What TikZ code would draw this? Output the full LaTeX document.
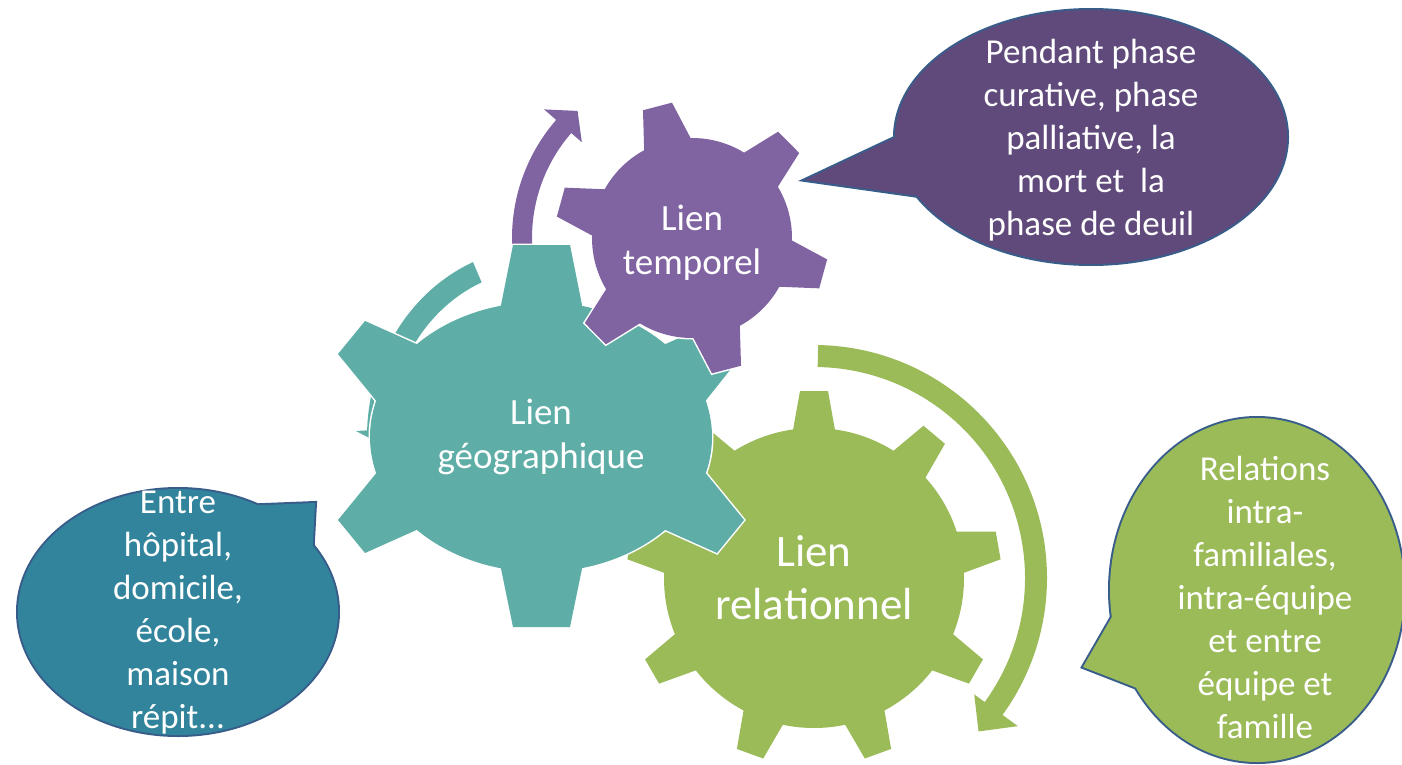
\documentclass[tikz,border=0pt]{standalone}
\usepackage{fontspec}
\setmainfont{Carlito}
\usepackage{tikz}
\usetikzlibrary{positioning}
\definecolor{geoteal}{RGB}{94,174,167}
\definecolor{temppurple}{RGB}{128,100,162}
\definecolor{relgreen}{RGB}{155,187,89}
\definecolor{bubteal}{RGB}{49,132,155}
\definecolor{bubpurple}{RGB}{96,74,123}
\definecolor{bubline}{RGB}{56,93,138}
\tikzstyle{rim} = [draw=white, line width=3pt]
\tikzstyle{bubrim} = [draw=bubline, line width=4pt]
\tikzstyle{gearlabel} = [text=white, align=center, inner sep=0pt, font=\fontsize{37}{44}\selectfont]
\tikzstyle{bublabel} = [text=white, align=center, inner sep=0pt, font=\fontsize{35}{43}\selectfont]
% each gear / bubble is drawn twice: first with its rim, then plain on top
\def\geargeo(#1){
  \fill[#1] (541,437) ellipse (171 and 135);
  \fill[#1] (498,320) -- (513,245) -- (570,245) -- (585,320) -- cycle;
  \fill[#1] (498,554) -- (513,627) -- (570,627) -- (585,554) -- cycle;
  \fill[#1] (387,414) -- (338,354) -- (365,321) -- (432,351) -- cycle;
  \fill[#1] (387,460) -- (338,520) -- (365,553) -- (432,523) -- cycle;
  \fill[#1] (695,414) -- (738,360) -- (717,321) -- (650,351) -- cycle;
  \fill[#1] (695,460) -- (744,520) -- (717,553) -- (650,523) -- cycle;
}
\def\geartemp(#1){
  \fill[#1] (692,238) circle (100);
  \foreach \a in {15.3,75.3,135.3,195.3,255.3,315.3}
    \fill[#1, shift={(692,238)}, rotate=\a] (85,-24) -- (97,-24) -- (136,-15) -- (136,15) -- (97,24) -- (85,24) -- cycle;
}
\def\gearrel(#1){
  \fill[#1] (814,578) circle (150);
  \foreach \a in {30,70,...,350}
    \fill[#1, shift={(814,578)}, rotate=\a] (135,-21) -- (148,-21) -- (187,-14) -- (187,14) -- (148,21) -- (135,21) -- cycle;
}
\def\bubtemp(#1){
  \fill[#1] (1091,137) ellipse (196 and 127);
  \fill[#1] (805,180) -- (920,126) -- (940,199) -- cycle;
}
\def\bubgeo(#1){
  \fill[#1] (178,612) ellipse (160 and 123);
  \fill[#1] (315,503) -- (240,506) -- (311,577) -- cycle;
}
\def\bubrel(#1){
  \fill[#1] (1257,590) ellipse (147 and 172);
  \fill[#1] (1083,667) -- (1124,596) -- (1160,697) -- cycle;
}

\begin{document}
\begin{tikzpicture}[x=1pt,y=1pt,yscale=-1]
      \useasboundingbox (0,0) rectangle (1402,765);
      %%%%%%%%%%%%%%%%%%%%%%%%%%%%%%%%%%%%%%%
      % green gear and its arrow
      \begin{scope}[shift={(814,578)}]
      \fill[relgreen] (271:233) arc[start angle=271, end angle=396, radius=233]
        -- (396:252) -- (403:225) -- (396:198) -- (396:211)
        arc[start angle=396, end angle=271, radius=211] -- cycle;
      \end{scope}
      \gearrel(relgreen,rim)
      \gearrel(relgreen)
      % teal arrow, mostly hidden
      \begin{scope}[shift={(541,437)}]
      \fill[geoteal] (247:174 and 190) arc[start angle=247, end angle=182, x radius=174, y radius=190]
        -- (-185,-6) -- (-145,15) -- (-129,-7) -- (182:152 and 168)
        arc[start angle=182, end angle=247, x radius=152, y radius=168] -- cycle;
      \end{scope}
      % purple arrow, behind the teal gear
      \begin{scope}[shift={(692,238)}]
      \fill[temppurple] (165:180) arc[start angle=165, end angle=221, radius=180]
        -- (221:196) -- (228:171) -- (221:146) -- (221:160)
        arc[start angle=221, end angle=165, radius=160] -- cycle;
      \end{scope}
      \geargeo(geoteal,rim)
      \geargeo(geoteal)
      \geartemp(temppurple,rim)
      \geartemp(temppurple)
      % bubbles
      \bubtemp(bubpurple,bubrim)
      \bubtemp(bubpurple)
      \bubgeo(bubteal,bubrim)
      \bubgeo(bubteal)
      \bubrel(relgreen,bubrim)
      \bubrel(relgreen)
      % texts
      \node (temp) at (692,243) [gearlabel] {Lien\\temporel};
      \node (geo) at (541,437) [gearlabel] {Lien\\géographique};
      \node (rel) at (814,578) [gearlabel, font=\fontsize{45}{53}\selectfont] {Lien\\relationnel};
      \node (btemp) at (1091,140) [bublabel] {Pendant phase\\curative, phase\\palliative, la\\mort et~ la\\phase de deuil};
      \node (bgeo) at (178,613) [bublabel] {Entre\\hôpital,\\domicile,\\école,\\maison\\répit...};
      \node (brel) at (1265,597) [bublabel] {Relations\\intra-\\familiales,\\intra-équipe\\et entre\\équipe et\\famille};
\end{tikzpicture}
\end{document}
